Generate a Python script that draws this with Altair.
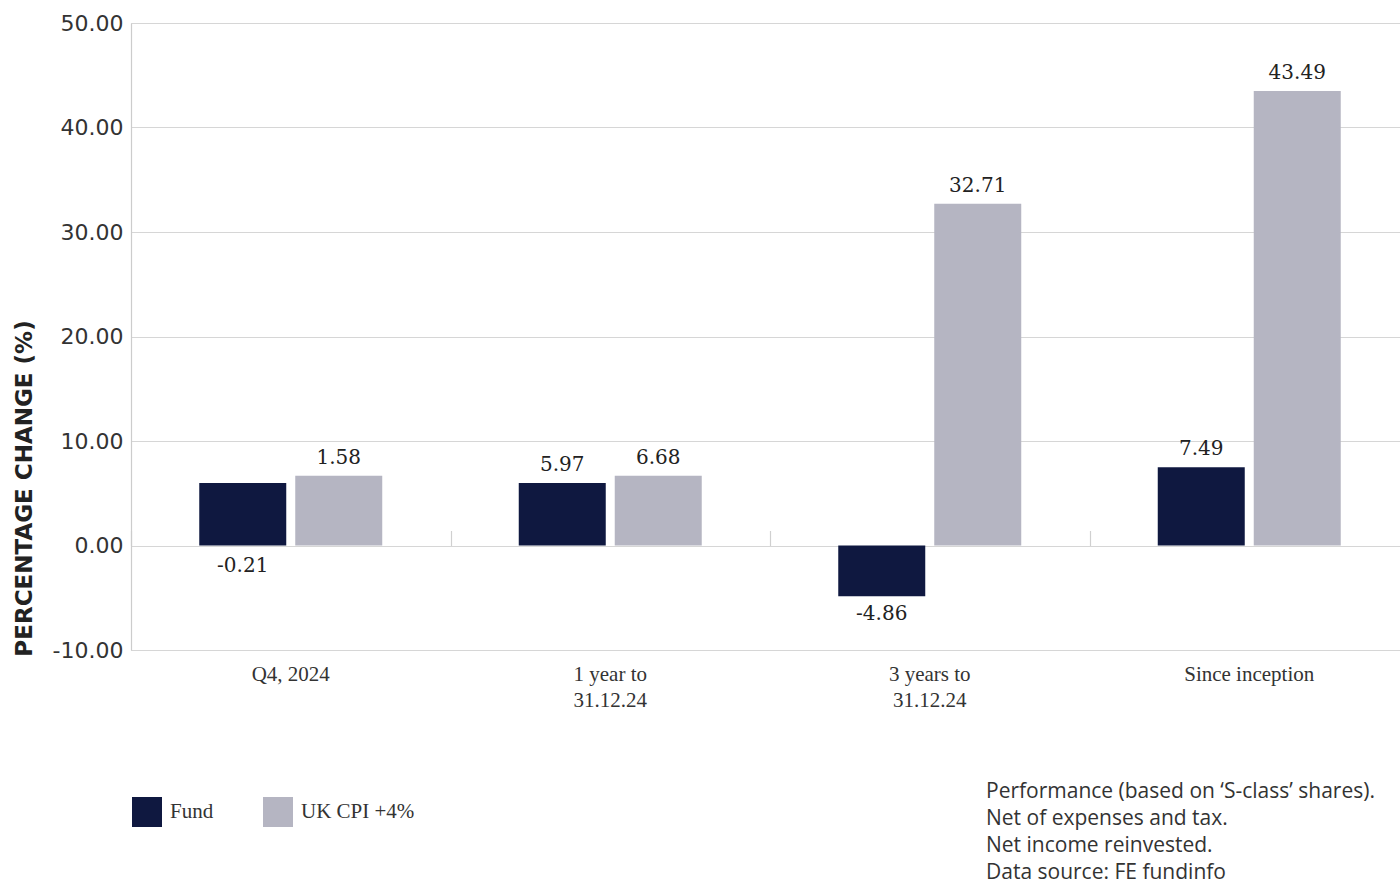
import altair as alt
import pandas as pd

categories = ["Q4, 2024", "1 year to 31.12.24", "3 years to 31.12.24", "Since inception"]
series = ["Fund", "UK CPI +4%"]
colors = ["#0f1840", "#b5b5c2"]

# bar heights as drawn
fund_bars = [5.97, 5.97, -4.86, 7.49]
cpi_bars = [6.68, 6.68, 32.71, 43.49]
# value labels as printed, and the level each is anchored to
fund_labels = ["-0.21", "5.97", "-4.86", "7.49"]
cpi_labels = ["1.58", "6.68", "32.71", "43.49"]
fund_label_at = [-0.21, 5.97, -4.86, 7.49]
cpi_label_at = [6.68, 6.68, 32.71, 43.49]

y_ticks = [-10, 0, 10, 20, 30, 40, 50]
notes = [
    "Performance (based on \u2018S-class\u2019 shares).",
    "Net of expenses and tax.",
    "Net income reinvested.",
    "Data source: FE fundinfo",
]

rows = []
for i, c in enumerate(categories):
    rows.append({"cat": c, "series": series[0], "value": fund_bars[i],
                 "label": fund_labels[i], "label_at": fund_label_at[i]})
    rows.append({"cat": c, "series": series[1], "value": cpi_bars[i],
                 "label": cpi_labels[i], "label_at": cpi_label_at[i]})
df = pd.DataFrame(rows)

W, H = 1269, 627
band_total = 1278
y_min, y_max = -10, 50
zero_px = H * (y_max - 0) / (y_max - y_min)

serif = "Liberation Serif"
num_serif = "DejaVu Serif"

x_scale = alt.Scale(domain=categories, range=[0, band_total], paddingInner=0, paddingOuter=0)
xo_scale = alt.Scale(domain=series, paddingInner=0.09375, paddingOuter=0.711)
y_scale = alt.Scale(domain=[y_min, y_max], nice=False, zero=False)

label_expr = ("indexof(datum.label, ' 31.') >= 0 ? "
              "[slice(datum.label, 0, indexof(datum.label, ' 31.')), "
              "slice(datum.label, indexof(datum.label, ' 31.') + 1)] : datum.label")
y_label_expr = "replace(format(datum.value, '.2f'), '\u2212', '-')"

base = alt.Chart(df)

bars = base.mark_bar(strokeWidth=0).encode(
    x=alt.X("cat:N", scale=x_scale, sort=categories,
            axis=alt.Axis(title=None, orient="bottom", domain=False, ticks=False, grid=False,
                          labelAngle=0, labelFont=serif, labelFontSize=21, labelColor="#333333",
                          labelPadding=13, labelLineHeight=26, labelExpr=label_expr,
                          labelBaseline="top")),
    xOffset=alt.XOffset("series:N", scale=xo_scale, sort=series),
    y=alt.Y("value:Q", scale=y_scale,
            axis=alt.Axis(values=y_ticks, labelExpr=y_label_expr, title="PERCENTAGE CHANGE (%)",
                          ticks=False, domain=True, domainColor="#cccccc", domainWidth=1.2,
                          grid=True, gridColor="#d6d6d6", gridWidth=1.2,
                          labelFont="DejaVu Sans", labelFontSize=22, labelColor="#333333",
                          labelPadding=8,
                          titleFont="DejaVu Sans", titleFontSize=23, titleFontWeight="bold",
                          titleColor="#222222", titleAngle=270, titleX=-107, titleY=465,
                          titleAlign="center", titleBaseline="middle")),
    color=alt.Color("series:N", scale=alt.Scale(domain=series, range=colors),
                    legend=alt.Legend(orient="none", legendX=1, legendY=774,
                                      direction="horizontal", title=None,
                                      symbolType="square", symbolSize=900,
                                      symbolStrokeWidth=0, symbolOpacity=1,
                                      labelFont=serif, labelFontSize=21, labelColor="#333333",
                                      labelOffset=8, columnPadding=49)),
)

pos_labels = base.transform_filter("datum.label_at >= 0").mark_text(
    baseline="bottom", dy=-8, font=num_serif, fontSize=20, color="#222222"
).encode(
    x=alt.X("cat:N", scale=x_scale, sort=categories,
            axis=alt.Axis(orient="top", offset=-zero_px, labels=False, domain=False,
                          ticks=True, tickBand="extent", tickSize=15,
                          tickColor="#d0d0d0", tickWidth=1.2, grid=False, title=None)),
    xOffset=alt.XOffset("series:N", scale=xo_scale, sort=series),
    y=alt.Y("label_at:Q", scale=y_scale),
    text="label:N",
)

neg_labels = base.transform_filter("datum.label_at < 0").mark_text(
    baseline="top", dy=8, font=num_serif, fontSize=20, color="#222222"
).encode(
    x=alt.X("cat:N", scale=x_scale, sort=categories, axis=None),
    xOffset=alt.XOffset("series:N", scale=xo_scale, sort=series),
    y=alt.Y("label_at:Q", scale=y_scale),
    text="label:N",
)

note_text = alt.Chart(pd.DataFrame({"t": [0]})).mark_text(
    align="left", baseline="middle", font="Open Sans", fontSize=21, color="#333333",
    lineHeight=27
).encode(
    x=alt.value(855),
    y=alt.value(769),
    text=alt.value(notes),
)

chart = alt.layer(bars, pos_labels, neg_labels, note_text).resolve_axis(
    x="independent"
).properties(
    width=W, height=H,
    autosize=alt.AutoSizeParams(type="none"),
    padding={"left": 131, "top": 23, "right": 0, "bottom": 229},
).configure_view(stroke=None).configure(background="white")

chart.save("out.html", embed_options={"renderer": "svg", "actions": False})
